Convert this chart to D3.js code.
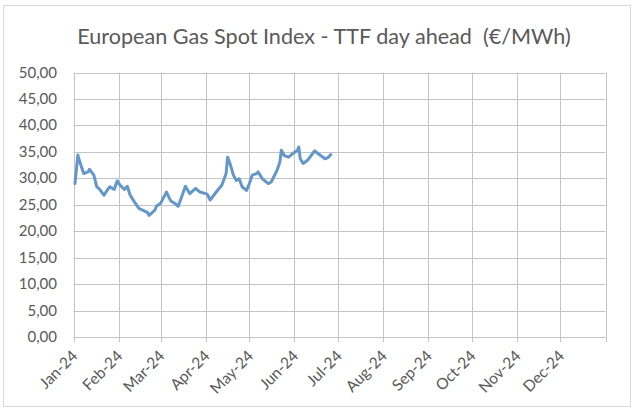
<!DOCTYPE html>
<html><head><meta charset="utf-8">
<script src="https://cdn.jsdelivr.net/npm/d3@7"></script>
<style>
html,body{margin:0;padding:0;background:#fff;}
text{font-family:Lato,"Open Sans",sans-serif;}
</style></head>
<body><svg id="c" width="636" height="412"></svg>
<script>
const title = "European Gas Spot Index - TTF day ahead  (€/MWh)";
const dates = ["2024-01-02","2024-01-04","2024-01-05","2024-01-08","2024-01-11","2024-01-12","2024-01-15","2024-01-17","2024-01-19","2024-01-22","2024-01-24","2024-01-26","2024-01-29","2024-01-31","2024-02-02","2024-02-05","2024-02-07","2024-02-09","2024-02-12","2024-02-15","2024-02-19","2024-02-21","2024-02-22","2024-02-26","2024-02-27","2024-03-01","2024-03-05","2024-03-07","2024-03-08","2024-03-11","2024-03-13","2024-03-15","2024-03-18","2024-03-21","2024-03-25","2024-03-28","2024-04-02","2024-04-04","2024-04-09","2024-04-12","2024-04-15","2024-04-16","2024-04-18","2024-04-20","2024-04-22","2024-04-24","2024-04-26","2024-04-29","2024-05-01","2024-05-03","2024-05-06","2024-05-07","2024-05-10","2024-05-14","2024-05-16","2024-05-20","2024-05-22","2024-05-23","2024-05-25","2024-05-28","2024-05-31","2024-06-03","2024-06-04","2024-06-05","2024-06-07","2024-06-10","2024-06-13","2024-06-15","2024-06-17","2024-06-19","2024-06-22","2024-06-24","2024-06-26"];
const values = [29.0,34.4,33.4,30.9,31.2,31.7,30.6,28.4,27.9,26.8,27.7,28.4,27.9,29.5,28.7,27.9,28.5,26.8,25.5,24.3,23.8,23.5,23.0,24.0,24.7,25.3,27.4,26.2,25.7,25.2,24.7,26.2,28.5,27.1,28.1,27.4,27.0,25.9,27.7,28.7,30.9,34.0,32.5,30.6,29.6,29.9,28.4,27.7,29.0,30.6,30.9,31.2,29.9,29.0,29.3,31.5,33.1,35.3,34.3,34.0,34.7,35.3,35.9,33.7,32.8,33.4,34.5,35.2,34.7,34.3,33.7,33.9,34.5];
const yTicks = [0,5,10,15,20,25,30,35,40,45,50];
const monthLabels = ["Jan-24","Feb-24","Mar-24","Apr-24","May-24","Jun-24","Jul-24","Aug-24","Sep-24","Oct-24","Nov-24","Dec-24"];

const svg = d3.select("#c");
const M = {left:73.5, right:605.5, top:72.5, bottom:337};
const parse = d3.utcParse("%Y-%m-%d");
const data = dates.map((d,i)=>({date:parse(d), v:values[i]}));
const x = d3.scaleUtc().domain([Date.UTC(2024,0,1), Date.UTC(2025,0,1)]).range([M.left, M.right]);
const y = d3.scaleLinear().domain([0,50]).range([M.bottom, M.top]);
const monthDates = d3.utcMonths(Date.UTC(2024,0,1), Date.UTC(2025,0,2));

svg.append("rect").attr("x",3.5).attr("y",5.5).attr("width",627).attr("height",401)
  .attr("fill","#fff").attr("stroke","#d9d9d9").attr("stroke-width",1);

svg.append("text").attr("x",324).attr("y",44).attr("text-anchor","middle")
  .attr("font-size",21.6).attr("fill","#595959").style("white-space","pre").text(title);

const grid = "#c4c4c4";
svg.append("g").selectAll("line").data(yTicks).join("line")
  .attr("x1",M.left).attr("x2",M.right)
  .attr("y1",d=>Math.round(y(d))+0.5).attr("y2",d=>Math.round(y(d))+0.5)
  .attr("stroke",grid).attr("stroke-width",1);
svg.append("g").selectAll("line").data(monthDates).join("line")
  .attr("x1",d=>Math.round(x(d))+0.5).attr("x2",d=>Math.round(x(d))+0.5)
  .attr("y1",M.top).attr("y2",M.bottom+5)
  .attr("stroke",grid).attr("stroke-width",1);

svg.append("g").selectAll("text").data(yTicks).join("text")
  .attr("x",57).attr("y",d=>y(d)+5).attr("text-anchor","end")
  .attr("font-size",15).attr("fill","#595959")
  .text(d=>d3.format(".2f")(d).replace(".",","));

svg.append("g").selectAll("text").data(monthDates.slice(0,12)).join("text")
  .attr("text-anchor","end").attr("font-size",15.5).attr("fill","#595959")
  .attr("transform",d=>`translate(${x(d)+5},${M.bottom+20}) rotate(-45)`)
  .text((d,i)=>monthLabels[i]);

const line = d3.line().x(d=>x(d.date)).y(d=>y(d.v)).curve(d3.curveLinear);
svg.append("path").datum(data).attr("d",line).attr("fill","none")
  .attr("stroke","#6497c9").attr("stroke-width",3).attr("stroke-linejoin","round").attr("stroke-linecap","round");
</script></body></html>
